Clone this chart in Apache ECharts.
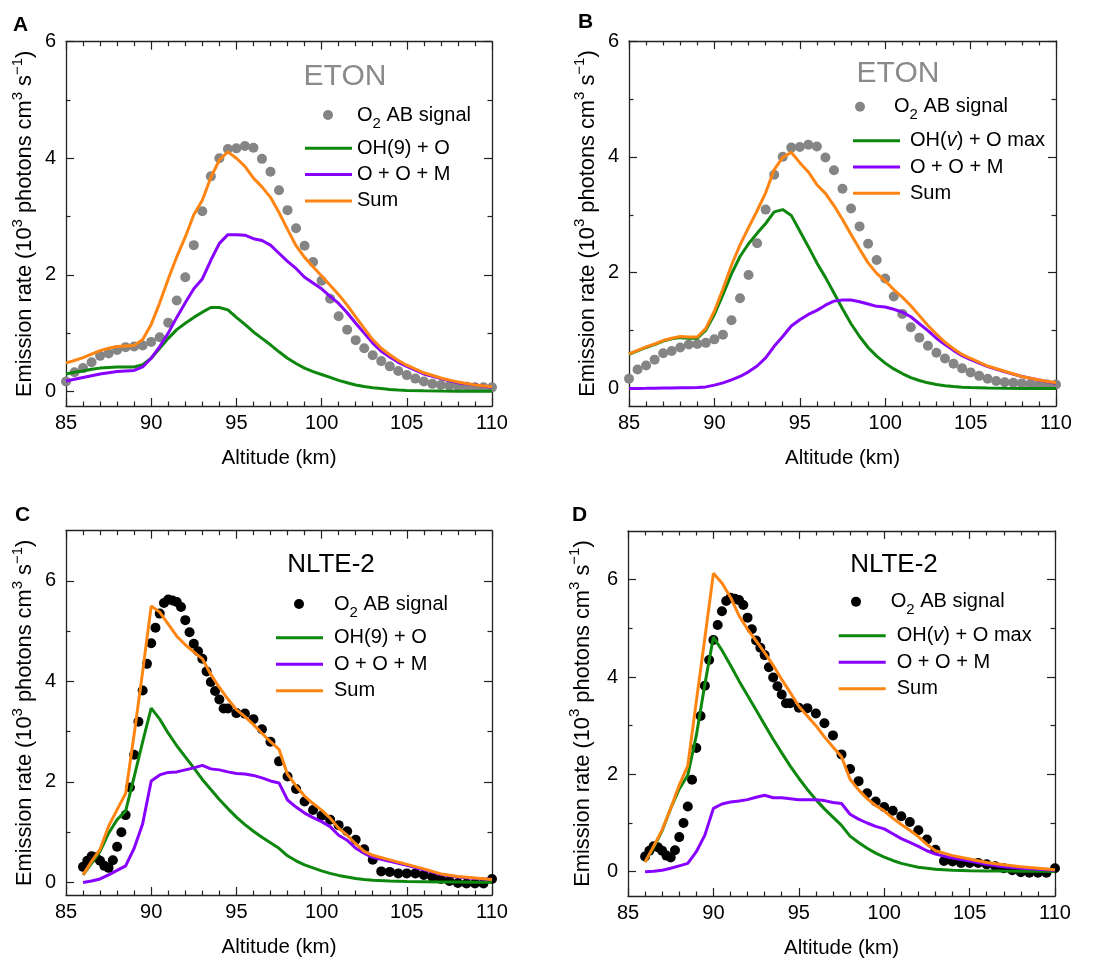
<!DOCTYPE html>
<html><head><meta charset="utf-8">
<script src="https://cdn.jsdelivr.net/npm/echarts@6/dist/echarts.min.js"></script>
<style>html,body{margin:0;padding:0;background:#fff}#c{width:1100px;height:959px}</style>
</head><body><div id="c"></div><script>
const FONT = "'Liberation Sans', Arial, Helvetica, sans-serif";
const FRAME = '#222';
const GREEN = '#0d870d', PURPLE = '#8800ff', ORANGE = '#ff8512', GRAY = '#858585', BLACK = '#000000';

// ---------- data ----------
const xTickLabels = [85, 90, 95, 100, 105, 110];
const yTickLabels = [0, 2, 4, 6];
const yMinorTicks = [1, 3, 5];

const altEtonSignal = [85,85.5,86,86.5,87,87.5,88,88.5,89,89.5,90,90.5,91,91.5,92,92.5,93,93.5,94,94.5,95,95.5,96,96.5,97,97.5,98,98.5,99,99.5,100,100.5,101,101.5,102,102.5,103,103.5,104,104.5,105,105.5,106,106.5,107,107.5,108,108.5,109,109.5,110];
const etonSignal = [0.17,0.33,0.40,0.50,0.61,0.65,0.71,0.76,0.77,0.79,0.85,0.93,1.18,1.56,1.96,2.51,3.09,3.69,4.00,4.16,4.17,4.21,4.18,3.99,3.77,3.45,3.11,2.80,2.50,2.22,1.90,1.59,1.29,1.06,0.88,0.74,0.62,0.52,0.43,0.35,0.28,0.22,0.17,0.13,0.11,0.10,0.09,0.08,0.07,0.07,0.07];

const altEtonModel = [85,85.5,86,86.5,87,87.5,88,88.5,89,89.5,90,90.5,91,91.5,92,92.5,93,93.5,94,94.5,95,95.5,96,96.5,97,97.5,98,98.5,99,99.5,100,100.5,101,101.5,102,102.5,103,103.5,104,104.5,105,106,107,108,109,110];
const aOH9 = [0.30,0.33,0.35,0.38,0.40,0.41,0.42,0.42,0.42,0.46,0.57,0.74,0.91,1.06,1.17,1.27,1.36,1.44,1.44,1.40,1.27,1.15,1.02,0.91,0.80,0.68,0.57,0.48,0.40,0.34,0.29,0.24,0.19,0.15,0.11,0.085,0.065,0.05,0.035,0.025,0.018,0.01,0.007,0.005,0.004,0.003];
const aOOM = [0.18,0.21,0.24,0.27,0.30,0.32,0.34,0.35,0.36,0.42,0.57,0.77,1.00,1.27,1.52,1.76,1.93,2.25,2.54,2.69,2.69,2.68,2.62,2.59,2.51,2.37,2.23,2.11,1.96,1.86,1.76,1.63,1.51,1.35,1.17,1.00,0.83,0.69,0.59,0.50,0.43,0.30,0.22,0.15,0.11,0.07];
const aSum = [0.49,0.53,0.58,0.64,0.70,0.74,0.77,0.78,0.79,0.89,1.15,1.52,1.93,2.31,2.65,3.03,3.28,3.67,3.97,4.11,4.00,3.86,3.66,3.51,3.33,3.07,2.78,2.50,2.30,2.14,1.98,1.82,1.66,1.48,1.28,1.08,0.89,0.74,0.63,0.53,0.45,0.32,0.23,0.16,0.11,0.08];
const bOHv = [0.59,0.65,0.71,0.76,0.82,0.86,0.88,0.87,0.87,1.01,1.28,1.62,1.98,2.28,2.50,2.68,2.85,3.05,3.09,2.99,2.72,2.45,2.17,1.92,1.65,1.38,1.12,0.90,0.71,0.56,0.44,0.34,0.26,0.19,0.14,0.10,0.07,0.05,0.035,0.025,0.018,0.01,0.006,0.004,0.003,0.002];
const bOOM = [0.0,0.003,0.005,0.008,0.01,0.012,0.015,0.017,0.02,0.03,0.06,0.10,0.15,0.21,0.29,0.39,0.53,0.73,0.90,1.08,1.19,1.28,1.35,1.44,1.51,1.53,1.53,1.50,1.46,1.42,1.41,1.37,1.32,1.24,1.12,1.00,0.87,0.76,0.66,0.57,0.50,0.38,0.29,0.21,0.15,0.09];
const bSum = [0.60,0.66,0.72,0.77,0.83,0.87,0.90,0.89,0.89,1.04,1.34,1.72,2.13,2.48,2.78,3.07,3.38,3.78,3.99,4.08,3.90,3.74,3.52,3.37,3.16,2.92,2.66,2.41,2.17,1.99,1.86,1.71,1.58,1.43,1.26,1.09,0.94,0.80,0.69,0.59,0.52,0.39,0.30,0.21,0.15,0.10];

const altNlteSignal = [86,86.25,86.5,86.75,87,87.25,87.5,87.75,88,88.25,88.5,88.75,89,89.25,89.5,89.75,90,90.25,90.5,90.75,91,91.25,91.5,91.75,92,92.25,92.5,92.75,93,93.25,93.5,93.75,94,94.25,94.5,95,95.5,96,96.5,97,97.5,98,98.5,99,99.5,100,100.5,101,101.5,102,102.5,103,103.5,104,104.5,105,105.5,106,106.5,107,107.5,108,108.5,109,109.5,110];
const nlteSignal = [0.31,0.43,0.52,0.50,0.43,0.33,0.29,0.44,0.71,1.00,1.34,1.89,2.54,3.20,3.82,4.35,4.76,5.07,5.35,5.56,5.63,5.61,5.58,5.48,5.22,4.98,4.75,4.60,4.45,4.20,3.99,3.81,3.64,3.46,3.46,3.37,3.36,3.25,3.05,2.80,2.41,2.11,1.86,1.61,1.44,1.33,1.25,1.14,1.02,0.85,0.66,0.45,0.22,0.21,0.18,0.18,0.18,0.15,0.11,0.07,0.03,-0.01,-0.02,-0.02,-0.02,0.07];

const altNlteModel = [86,86.5,87,87.5,88,88.5,89,89.5,90,90.5,91,91.5,92,92.5,93,93.5,94,94.5,95,95.5,96,96.5,97,97.5,98,98.5,99,99.5,100,100.5,101,101.5,102,102.5,103,104,105,106,107,108,109,110];
const cOH9 = [0.15,0.38,0.62,0.98,1.25,1.42,2.10,2.80,3.47,3.25,2.97,2.72,2.50,2.28,2.05,1.85,1.65,1.47,1.30,1.15,1.02,0.90,0.79,0.68,0.53,0.43,0.35,0.29,0.23,0.18,0.14,0.11,0.08,0.06,0.045,0.03,0.02,0.015,0.01,0.008,0.006,0.005];
const cOOM = [0.0,0.03,0.07,0.15,0.24,0.33,0.68,1.17,2.02,2.14,2.19,2.20,2.24,2.28,2.33,2.26,2.24,2.20,2.17,2.16,2.13,2.08,2.02,1.98,1.64,1.50,1.38,1.29,1.21,1.11,0.94,0.84,0.68,0.58,0.50,0.42,0.34,0.25,0.16,0.11,0.08,0.06];
const cSum = [0.15,0.42,0.66,1.12,1.45,1.77,2.95,4.20,5.50,5.38,5.14,4.90,4.73,4.59,4.45,4.14,3.88,3.65,3.44,3.30,3.14,2.97,2.80,2.65,2.15,1.92,1.72,1.57,1.44,1.28,1.08,0.94,0.77,0.62,0.54,0.45,0.36,0.27,0.17,0.12,0.09,0.06];
const dOHv = [0.20,0.50,0.84,1.30,1.70,1.98,2.80,3.85,4.82,4.55,4.24,3.92,3.62,3.32,3.02,2.72,2.44,2.17,1.92,1.69,1.48,1.29,1.12,0.95,0.73,0.60,0.48,0.38,0.30,0.23,0.17,0.13,0.09,0.07,0.05,0.03,0.02,0.015,0.012,0.01,0.007,0.005];
const dOOM = [0.0,0.01,0.03,0.07,0.12,0.17,0.41,0.75,1.30,1.39,1.43,1.45,1.48,1.53,1.57,1.52,1.52,1.50,1.48,1.48,1.48,1.46,1.42,1.40,1.18,1.08,1.00,0.93,0.88,0.78,0.68,0.60,0.52,0.43,0.36,0.28,0.22,0.15,0.10,0.07,0.05,0.03];
const dSum = [0.20,0.52,0.86,1.30,1.78,2.18,3.50,4.80,6.13,5.93,5.64,5.26,4.98,4.74,4.50,4.24,3.95,3.68,3.40,3.20,3.00,2.77,2.56,2.36,1.90,1.68,1.50,1.36,1.25,1.10,0.97,0.85,0.72,0.56,0.43,0.33,0.26,0.19,0.14,0.10,0.07,0.04];

// ---------- layout ----------
const pair = (xs, ys) => xs.map((x, i) => [x, ys[i]]);

const panels = [
  { grid: {left: 66, top: 41.7, width: 426, height: 364.3}, yMin: -0.25, yMax: 6, yNameGap: 26,
    sigName: 'ETON signal', sigAlt: altEtonSignal, sig: etonSignal, sigColor: GRAY,
    lines: [['OH(9) + O', altEtonModel, aOH9, GREEN], ['O + O + M', altEtonModel, aOOM, PURPLE], ['Sum', altEtonModel, aSum, ORANGE]] },
  { grid: {left: 629, top: 41, width: 427, height: 365}, yMin: -0.3, yMax: 6, yNameGap: 30,
    sigName: 'ETON signal ', sigAlt: altEtonSignal, sig: etonSignal, sigColor: GRAY,
    lines: [['OH(v) + O max', altEtonModel, bOHv, GREEN], ['O + O + M ', altEtonModel, bOOM, PURPLE], ['Sum ', altEtonModel, bSum, ORANGE]] },
  { grid: {left: 66, top: 530.7, width: 426, height: 364.3}, yMin: -0.25, yMax: 7, yNameGap: 27,
    sigName: 'NLTE signal', sigAlt: altNlteSignal, sig: nlteSignal, sigColor: BLACK,
    lines: [['OH(9) + O  ', altNlteModel, cOH9, GREEN], ['O + O + M  ', altNlteModel, cOOM, PURPLE], ['Sum  ', altNlteModel, cSum, ORANGE]] },
  { grid: {left: 628, top: 531, width: 427, height: 365}, yMin: -0.5, yMax: 7, yNameGap: 34,
    sigName: 'NLTE signal ', sigAlt: altNlteSignal, sig: nlteSignal, sigColor: BLACK,
    lines: [['OH(v) + O max ', altNlteModel, dOHv, GREEN], ['O + O + M   ', altNlteModel, dOOM, PURPLE], ['Sum   ', altNlteModel, dSum, ORANGE]] }
];

// scatter legend: left = dot centre - radius; w sets text offset (text at centre + w/2 + 5)
const legendPos = [
  { sig: {left: 323, top: 99, w: 48},   lines: {left: 305, top: 138.3, gap: 6.3, pad: 0} },
  { sig: {left: 855, top: 90.7, w: 58}, lines: {left: 853, top: 130.7, gap: 6.3, pad: 5} },
  { sig: {left: 294, top: 588, w: 60},  lines: {left: 276, top: 627.7, gap: 6.5, pad: 6} },
  { sig: {left: 851, top: 585.7, w: 59.4}, lines: {left: 838.7, top: 625.7, gap: 6.5, pad: 6} }
];

const textCommon = {fontFamily: FONT, color: '#000'};
const tickStyle = {color: FRAME, width: 1.2};
const lineAxis = {show: true, onZero: false, lineStyle: {color: FRAME, width: 1.3}};

const grids = [], xAxes = [], yAxes = [], series = [], legends = [];

panels.forEach((p, i) => {
  grids.push(Object.assign({outerBoundsMode: 'none', containLabel: false}, p.grid));
  const xBase = {type: 'value', gridIndex: i, min: 85, max: 110, interval: 5,
    axisLine: lineAxis, splitLine: {show: false}, minorSplitLine: {show: false},
    axisTick: {show: true, inside: true, length: 8, lineStyle: tickStyle},
    minorTick: {show: true, splitNumber: 5, length: 4.5, lineStyle: tickStyle}};
  const xb = xAxes.length;
  xAxes.push(Object.assign({}, xBase, {position: 'bottom',
    axisLabel: Object.assign({show: true, margin: 7, fontSize: 20,
      formatter: v => (xTickLabels.indexOf(v) >= 0 ? String(v) : '')}, textCommon),
    name: 'Altitude (km)', nameLocation: 'middle', nameGap: 42,
    nameTextStyle: Object.assign({fontSize: 20.5}, textCommon)}));
  xAxes.push(Object.assign({}, xBase, {position: 'top', axisLabel: {show: false}}));

  const yBase = {type: 'value', gridIndex: i, min: p.yMin, max: p.yMax, splitLine: {show: false}};
  const yb = yAxes.length;
  const labFmt = v => (yTickLabels.indexOf(v) >= 0 ? String(v) : '');
  yAxes.push(Object.assign({}, yBase, {position: 'left', axisLine: lineAxis,
    axisTick: {show: true, inside: true, length: 8, lineStyle: tickStyle, customValues: yTickLabels},
    axisLabel: Object.assign({show: true, margin: 10, fontSize: 20, customValues: yTickLabels, formatter: labFmt}, textCommon),
    name: '{m|Emission rate (10}{s|3}{m| photons cm}{s|3}{m| s}{s|\u22121}{m|)}',
    nameLocation: 'middle', nameRotate: 90, nameGap: p.yNameGap,
    nameTextStyle: {rich: {
      m: {fontSize: 21.8, lineHeight: 22, fontFamily: FONT, color: '#000', verticalAlign: 'middle'},
      s: {fontSize: 15, lineHeight: 15, fontFamily: FONT, color: '#000', verticalAlign: 'middle', padding: [0, 0, 16, 0]}
    }}}));
  yAxes.push(Object.assign({}, yBase, {position: 'left', axisLine: {show: false}, axisLabel: {show: false},
    axisTick: {show: true, inside: true, length: 4.5, lineStyle: tickStyle, customValues: yMinorTicks}}));
  yAxes.push(Object.assign({}, yBase, {position: 'right', axisLine: lineAxis, axisLabel: {show: false},
    axisTick: {show: true, inside: true, length: 8, lineStyle: tickStyle, customValues: yTickLabels}}));
  yAxes.push(Object.assign({}, yBase, {position: 'right', axisLine: {show: false}, axisLabel: {show: false},
    axisTick: {show: true, inside: true, length: 4.5, lineStyle: tickStyle, customValues: yMinorTicks}}));

  series.push({type: 'scatter', name: p.sigName, xAxisIndex: xb, yAxisIndex: yb,
    data: pair(p.sigAlt, p.sig), symbol: 'circle', symbolSize: 10,
    itemStyle: {color: p.sigColor, opacity: 1}, silent: true, z: 2});
  p.lines.forEach(([name, xs, ys, col]) => {
    series.push({type: 'line', name, xAxisIndex: xb, yAxisIndex: yb,
      data: pair(xs, ys), symbol: 'none', smooth: false,
      lineStyle: {color: col, width: 3}, itemStyle: {color: col}, silent: true, z: 3});
  });

  const lp = legendPos[i];
  legends.push({orient: 'vertical', left: lp.sig.left, top: lp.sig.top, padding: 0,
    itemWidth: lp.sig.w, itemHeight: 10, selectedMode: false,
    data: [{name: p.sigName, icon: 'circle'}],
    itemStyle: {opacity: 1},
    formatter: () => '{m|O}{s|2}{m| AB signal}',
    textStyle: {fontSize: 20, fontFamily: FONT, color: '#000', rich: {
      m: {fontSize: 20, lineHeight: 20, fontFamily: FONT, color: '#000', verticalAlign: 'middle'},
      s: {fontSize: 15, lineHeight: 15, fontFamily: FONT, color: '#000', verticalAlign: 'middle', padding: [17, 0, 0, 0]}
    }}});
  legends.push({orient: 'vertical', left: lp.lines.left, top: lp.lines.top, padding: 0,
    itemWidth: 47, itemHeight: 3, itemGap: lp.lines.gap, selectedMode: false,
    data: p.lines.map(l => ({name: l[0], icon: 'rect'})),
    formatter: (name) => {
      const t = name.trim();
      const g = '{g| }';
      if (t === 'OH(v) + O max') return g + '{m|OH(}{i|v}{m|) + O max}';
      return g + '{m|' + t + '}';
    },
    textStyle: {fontSize: 20, fontFamily: FONT, color: '#000', rich: {
      g: {width: lp.lines.pad, fontSize: 20, lineHeight: 20},
      m: {fontSize: 20, lineHeight: 20, fontFamily: FONT, color: '#000'},
      i: {fontSize: 20, lineHeight: 20, fontFamily: FONT, color: '#000', fontStyle: 'italic'}
    }}});
});

const txt = (x, y, text, size, color, weight) => ({type: 'text', x, y, silent: true,
  style: {text, fontSize: size, fontFamily: FONT, fontWeight: weight || 'normal', fill: color, align: 'center', verticalAlign: 'middle'}});

const option = {
  animation: false,
  backgroundColor: '#fff',
  grid: grids, xAxis: xAxes, yAxis: yAxes, series, legend: legends,
  graphic: [
    txt(20.5, 25, 'A', 21, '#000', 'bold'),
    txt(585.5, 22.5, 'B', 21, '#000', 'bold'),
    txt(22.5, 515.5, 'C', 21, '#000', 'bold'),
    txt(579.5, 515.5, 'D', 21, '#000', 'bold'),
    txt(345, 77, 'ETON', 30, '#8a8a8a'),
    txt(898, 73.5, 'ETON', 30, '#8a8a8a'),
    txt(331, 565, 'NLTE-2', 26, '#000'),
    txt(894, 565, 'NLTE-2', 26, '#000')
  ]
};
const chart = echarts.init(document.getElementById('c'));
chart.setOption(option);
</script></body></html>
